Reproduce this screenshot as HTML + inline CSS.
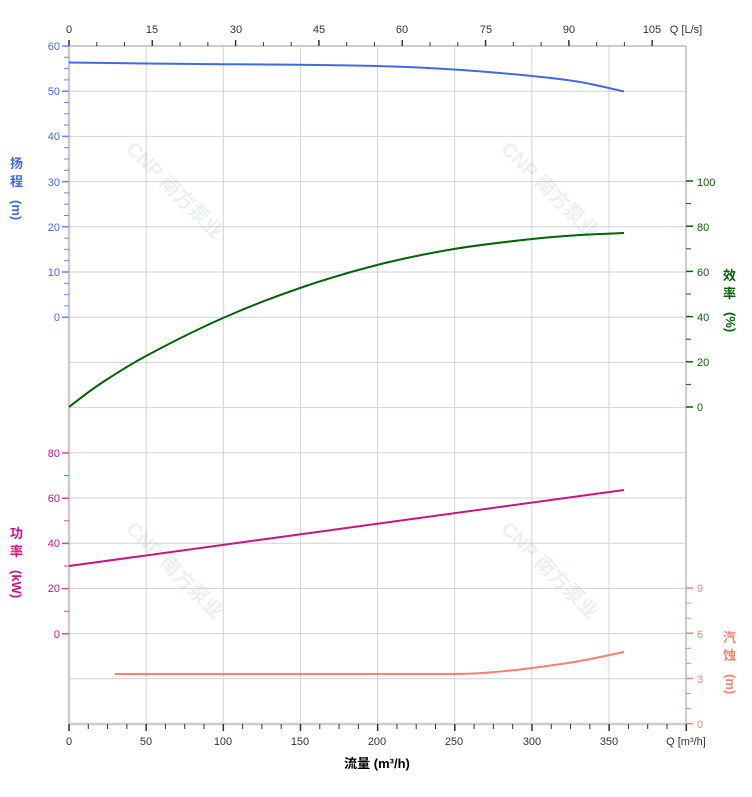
<!DOCTYPE html>
<html><head><meta charset="utf-8"><style>
body{margin:0;background:#fff}
svg{display:block;font-family:"Liberation Sans","Noto Sans CJK SC",sans-serif}
</style></head><body>
<svg id="s" width="752" height="797" viewBox="0 0 752 797">
<g id="grid" stroke="#d3d3d3" stroke-width="1"></g>
<g font-weight="bold" opacity="0.18">
<text transform="translate(125,150) rotate(45)" font-size="20" fill="#8ab">CNP 南方泵业</text>
<text transform="translate(500,150) rotate(45)" font-size="20" fill="#8ab">CNP 南方泵业</text>
<text transform="translate(125,530) rotate(45)" font-size="20" fill="#8ab">CNP 南方泵业</text>
<text transform="translate(500,530) rotate(45)" font-size="20" fill="#8ab">CNP 南方泵业</text>
</g>
<g id="ticks"></g>
<g fill="none" stroke-width="2" stroke-linejoin="round">
<path id="hc" stroke="#4169e1"/>
<path id="ec" stroke="#006400"/>
<path stroke="#c71585" d="M69,566 L624,490"/>
<path id="nc" stroke="#fa8072"/>
</g>
<g font-size="11" fill="#4169e1" text-anchor="end">
<text x="60" y="50">60</text><text x="60" y="95">50</text><text x="60" y="140">40</text><text x="60" y="186">30</text><text x="60" y="231">20</text><text x="60" y="276">10</text><text x="60" y="321">0</text>
</g>
<g font-size="11" fill="#c71585" text-anchor="end">
<text x="60" y="457">80</text><text x="60" y="502">60</text><text x="60" y="547">40</text><text x="60" y="592">20</text><text x="60" y="638">0</text>
</g>
<g font-size="11" fill="#006400">
<text x="697" y="186">100</text><text x="697" y="231">80</text><text x="697" y="276">60</text><text x="697" y="321">40</text><text x="697" y="366">20</text><text x="697" y="411">0</text>
</g>
<g font-size="11" fill="#fa8072">
<text x="697" y="592">9</text><text x="697" y="638">6</text><text x="697" y="683">3</text><text x="697" y="728">0</text>
</g>
<g font-size="11" fill="#333" text-anchor="middle">
<text x="69" y="33">0</text><text x="152" y="33">15</text><text x="236" y="33">30</text><text x="319" y="33">45</text><text x="402" y="33">60</text><text x="486" y="33">75</text><text x="569" y="33">90</text><text x="652" y="33">105</text>
<text x="686" y="33">Q [L/s]</text>
<text x="69" y="745">0</text><text x="146" y="745">50</text><text x="223" y="745">100</text><text x="300" y="745">150</text><text x="377" y="745">200</text><text x="454" y="745">250</text><text x="532" y="745">300</text><text x="609" y="745">350</text>
<text x="686" y="745">Q [m³/h]</text>
</g>
<text x="377" y="768" font-size="13" font-weight="bold" text-anchor="middle" fill="#000">流量 (m³/h)</text>
<g font-size="13" font-weight="bold">
<text x="10" y="168" fill="#4169e1">扬</text><text x="10" y="186" fill="#4169e1">程</text><text transform="translate(12,200) rotate(90)" fill="#4169e1">(m)</text>
<text x="10" y="538" fill="#c71585">功</text><text x="10" y="556" fill="#c71585">率</text><text transform="translate(12,570) rotate(90)" fill="#c71585">(kW)</text>
<text x="723" y="280" fill="#006400">效</text><text x="723" y="298" fill="#006400">率</text><text transform="translate(726,312) rotate(90)" fill="#006400">(%)</text>
<text x="723" y="642" fill="#fa8072">汽</text><text x="723" y="660" fill="#fa8072">蚀</text><text transform="translate(726,674) rotate(90)" fill="#fa8072">(m)</text>
</g>
</svg>
<script>
var NS="http://www.w3.org/2000/svg";
function L(g,x1,y1,x2,y2,c,w){var l=document.createElementNS(NS,"line");l.setAttribute("x1",x1);l.setAttribute("y1",y1);l.setAttribute("x2",x2);l.setAttribute("y2",y2);if(c)l.setAttribute("stroke",c);l.setAttribute("stroke-width",w||1);document.getElementById(g).appendChild(l);}
function CR(p){var d="M"+p[0][0]+","+p[0][1];for(var i=0;i<p.length-1;i++){var p0=p[i-1]||p[i],p1=p[i],p2=p[i+1],p3=p[i+2]||p2;d+=" C"+(p1[0]+(p2[0]-p0[0])/6)+","+(p1[1]+(p2[1]-p0[1])/6)+" "+(p2[0]-(p3[0]-p1[0])/6)+","+(p2[1]-(p3[1]-p1[1])/6)+" "+p2[0]+","+p2[1];}return d;}
document.getElementById("hc").setAttribute("d",CR([[69,62.5],[146,63.5],[223,64.2],[300,64.8],[377,66],[454,69.5],[532,76],[580,82],[624,91.5]]));
document.getElementById("ec").setAttribute("d",CR([[69,407],[100,384],[146,356],[223,318],[300,288],[377,265],[454,249],[532,239],[580,235],[624,233]]));
document.getElementById("nc").setAttribute("d",CR([[115,674],[300,674],[454,674],[500,671.5],[532,668],[580,661],[624,652]]));
for(var k=0;k<=15;k++){var y=46+45.2*k;L("grid",69,y,686,y);}
for(var k=0;k<=8;k++){var x=69+77.14*k;L("grid",x,46,x,724);}
L("grid",69,46,69,724,"#ccc",2.5);L("grid",69,724,686,724,"#ccc",2.5);L("grid",686,46,686,724,"#ccc",2);L("grid",69,46,686,46,"#ccc",2);
for(var i=0;i<=24;i++){var y=46+11.3*i;L("ticks",i%4?64:62,y,69,y,"#6a8ae8",i%4?1:1.5);}
for(var i=0;i<=8;i++){var y=453+22.6*i;L("ticks",i%2?64:62,y,69,y,"#d04a9a",i%2?1:1.5);}
for(var i=0;i<=10;i++){var y=181+22.6*i;L("ticks",686,y,i%2?691:693,y,"#006400",i%2?1:1.5);}
for(var i=0;i<=9;i++){var y=588+15.07*i;L("ticks",686,y,i%3?691:693,y,"#fa8072",i%3?1:1.5);}
for(var i=0;i<=32;i++){var x=69+19.29*i;L("ticks",x,724,x,i%4?729:731,"#333",i%4?1:1.5);}
for(var i=0;i<=21;i++){var x=69+27.77*i;L("ticks",x,i%3?42:40,x,46,"#333",i%3?1:1.5);}
</script>
</body></html>
